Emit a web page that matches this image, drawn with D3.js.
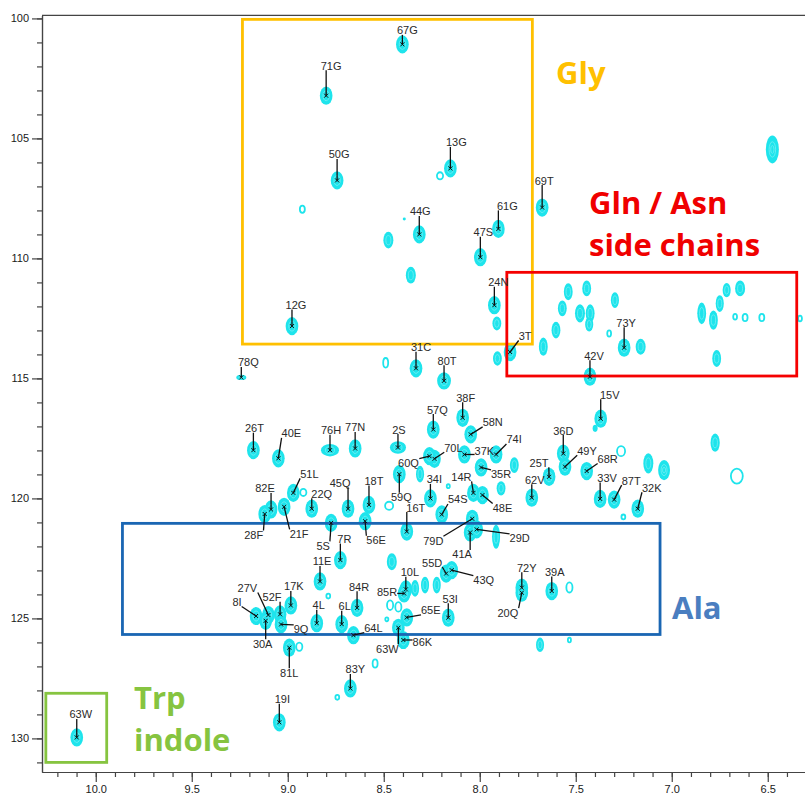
<!DOCTYPE html>
<html lang="en">
<head>
<meta charset="utf-8">
<title>1H-15N HSQC</title>
<script src="https://d3js.org/d3.v7.min.js"></script>
<style>
  body { margin: 0; background: #fff; }
  svg { display: block; }
  .axis text { font-family: Arial, "Liberation Sans", sans-serif; font-size: 11px; fill: #1a1a1a; }
  .axis path, .axis line { stroke: #444; stroke-width: 1.2; }
  .lbl { font-family: Arial, "Liberation Sans", sans-serif; font-size: 11px; fill: #2a2a2a; }
  .region { font-family: "Open Sans", sans-serif; font-weight: 700; font-size: 31px; }
</style>
</head>
<body>
<div id="main"></div>
<script>

// assigned backbone peaks: [label, 1H ppm, 15N ppm]
var assigned = [
  ["67G", 8.403, 101.08], ["71G", 8.800, 103.22], ["50G", 8.743, 106.75], ["13G", 8.153, 106.25],
  ["69T", 7.675, 107.88], ["44G", 8.315, 109.00], ["61G", 7.903, 108.77], ["47S", 7.997, 109.95],
  ["12G", 8.978, 112.82], ["24N", 7.924, 111.95], ["3T", 7.842, 113.90], ["31C", 8.332, 114.58],
  ["80T", 8.186, 115.10], ["78Q", 9.242, 114.96], ["42V", 7.426, 114.93], ["73Y", 7.248, 113.72],
  ["15V", 7.370, 116.68], ["38F", 8.089, 116.64], ["57Q", 8.242, 117.13], ["58N", 8.047, 117.33],
  ["74I", 7.915, 118.17], ["37K", 8.080, 118.17], ["70L", 8.236, 118.35], ["60Q", 8.262, 118.24],
  ["59Q", 8.419, 118.99], ["36D", 7.565, 118.13], ["49Y", 7.556, 118.68], ["68R", 7.443, 118.86],
  ["25T", 7.639, 119.10], ["26T", 9.179, 117.99], ["40E", 9.049, 118.33], ["76H", 8.780, 117.99],
  ["77N", 8.649, 117.92], ["2S", 8.426, 117.88], ["51L", 8.971, 119.77], ["82E", 9.087, 120.46],
  ["28F", 9.120, 120.65], ["21F", 9.019, 120.35], ["22Q", 8.875, 120.43], ["45Q", 8.686, 120.43],
  ["18T", 8.577, 120.27], ["5S", 8.774, 121.02], ["56E", 8.597, 120.95], ["34I", 8.257, 120.00],
  ["14R", 8.033, 119.77], ["48E", 7.986, 119.86], ["35R", 7.993, 118.71], ["54S", 8.198, 120.67],
  ["16T", 8.380, 121.38], ["62V", 7.729, 119.97], ["33V", 7.373, 120.02], ["87T", 7.300, 120.05],
  ["32K", 7.177, 120.43], ["79D", 8.039, 120.85], ["41A", 8.050, 121.42], ["29D", 8.016, 121.29],
  ["7R", 8.726, 122.57], ["11E", 8.832, 123.46], ["55D", 8.175, 123.13], ["43Q", 8.146, 122.99],
  ["72Y", 7.781, 123.72], ["20Q", 7.781, 123.93], ["39A", 7.625, 123.86], ["10L", 8.385, 123.79],
  ["85R", 8.394, 123.96], ["84R", 8.639, 124.56], ["17K", 8.984, 124.46], ["4L", 8.849, 125.20],
  ["6L", 8.719, 125.24], ["53I", 8.164, 124.97], ["65E", 8.380, 124.96], ["64L", 8.658, 125.70],
  ["63W", 8.424, 125.39], ["86K", 8.398, 125.90], ["81L", 8.992, 126.22], ["83Y", 8.674, 127.92],
  ["19I", 9.044, 129.33], ["8I", 9.165, 124.90], ["27V", 9.101, 124.86], ["30A", 9.115, 125.10],
  ["52F", 9.040, 124.83], ["9Q", 9.035, 125.25]
];

// Trp side-chain indole NH
var indole = [["63W", 10.099, 129.96]];

// unassigned peaks: [1H ppm, 15N ppm, half-width 1H ppm, half-width 15N ppm, kind]
var unassigned = [
  [6.476, 105.46, 0.034, 0.58, "strong"],
  [8.476, 109.24, 0.026, 0.35, "blob"], [8.359, 110.70, 0.026, 0.35, "blob"],
  [8.207, 106.56, 0.016, 0.15, "ring"], [8.924, 107.95, 0.013, 0.15, "ring"],
  [8.393, 108.36, 0.008, 0.06, "blob"],
  [7.911, 112.71, 0.023, 0.29, "blob"], [7.908, 114.17, 0.023, 0.30, "blob"],
  [8.490, 114.35, 0.013, 0.20, "ring"],
  [7.539, 111.39, 0.023, 0.35, "blob"], [7.443, 111.25, 0.023, 0.33, "blob"],
  [7.570, 112.08, 0.023, 0.33, "blob"], [7.603, 112.99, 0.023, 0.35, "blob"],
  [7.478, 112.29, 0.026, 0.38, "blob"], [7.425, 112.29, 0.023, 0.38, "blob"],
  [7.430, 112.75, 0.021, 0.30, "blob"],
  [7.296, 111.74, 0.021, 0.33, "blob"], [7.669, 113.68, 0.023, 0.38, "blob"],
  [7.162, 113.68, 0.026, 0.33, "blob"], [6.844, 112.29, 0.023, 0.45, "blob"],
  [6.783, 112.57, 0.023, 0.40, "blob"], [6.714, 111.32, 0.021, 0.30, "blob"],
  [6.644, 111.25, 0.026, 0.33, "blob"], [6.750, 111.88, 0.021, 0.35, "blob"],
  [6.766, 114.17, 0.023, 0.35, "blob"],
  [6.618, 112.46, 0.013, 0.15, "ring"], [6.531, 112.46, 0.013, 0.15, "ring"],
  [6.670, 112.43, 0.010, 0.12, "ring"], [6.332, 112.50, 0.010, 0.12, "ring"],
  [7.326, 113.13, 0.010, 0.13, "ring"],
  [7.122, 118.54, 0.026, 0.42, "blob"], [7.040, 118.82, 0.031, 0.42, "strong"],
  [6.774, 117.68, 0.024, 0.38, "blob"], [6.661, 119.07, 0.031, 0.31, "ring"],
  [7.264, 118.03, 0.021, 0.21, "ring"], [7.399, 117.08, 0.013, 0.15, "blob"],
  [7.252, 120.77, 0.010, 0.10, "ring"],
  [7.820, 118.61, 0.023, 0.33, "blob"], [7.889, 119.58, 0.023, 0.30, "blob"],
  [7.915, 121.60, 0.021, 0.50, "blob"], [8.311, 118.99, 0.021, 0.35, "blob"],
  [8.472, 120.31, 0.021, 0.17, "ring"], [8.164, 119.49, 0.008, 0.08, "ring"],
  [8.919, 119.75, 0.016, 0.15, "ring"],
  [8.458, 122.64, 0.026, 0.35, "blob"],
  [8.337, 123.75, 0.021, 0.35, "blob"], [8.285, 123.61, 0.021, 0.35, "blob"],
  [8.224, 123.61, 0.021, 0.35, "blob"],
  [8.467, 124.45, 0.016, 0.20, "ring"], [8.424, 124.52, 0.016, 0.20, "ring"],
  [8.484, 125.04, 0.008, 0.08, "ring"],
  [8.789, 124.07, 0.010, 0.10, "ring"], [8.940, 126.18, 0.016, 0.17, "ring"],
  [8.545, 126.88, 0.013, 0.17, "ring"], [8.742, 128.29, 0.010, 0.10, "ring"],
  [7.686, 126.10, 0.021, 0.30, "blob"], [7.533, 125.90, 0.008, 0.10, "ring"],
  [7.533, 123.71, 0.016, 0.21, "ring"]
];

// boxed regions: [name, 1H from, 1H to, 15N from, 15N to]
var regions = [
  ["Gly", 9.236, 7.726, 100.04, 113.57],
  ["GlnAsn", 7.859, 6.349, 110.58, 114.90],
  ["Ala", 9.861, 7.061, 121.04, 125.67],
  ["Trp", 10.26, 9.943, 128.12, 131.0]
];

var xMajor = [10.0, 9.5, 9.0, 8.5, 8.0, 7.5, 7.0, 6.5];
var yMajor = [100, 105, 110, 115, 120, 125, 130];

// label offsets in px (label centre relative to the cross)
var labelOff = {
  "67G": [5, -14], "71G": [5, -30], "50G": [2, -26], "13G": [6, -26], "69T": [2, -27],
  "44G": [1, -23], "61G": [9, -23], "47S": [3, -25], "12G": [4, -21], "24N": [4, -23],
  "3T": [15, -16], "31C": [5, -21], "80T": [3, -20], "78Q": [7, -15], "42V": [4, -21],
  "73Y": [2, -25], "15V": [9, -24], "38F": [3, -20], "57Q": [4, -20], "58N": [22, -12],
  "74I": [18, -15], "37K": [20, -3], "70L": [19, -11], "60Q": [-21, 7], "59Q": [2, 23],
  "36D": [0, -23], "49Y": [22, -16], "68R": [21, -12], "25T": [-10, -14], "26T": [1, -22],
  "40E": [13, -25], "76H": [1, -20], "77N": [0, -21], "2S": [1, -18], "51L": [16, -19],
  "82E": [-6, -21], "28F": [-11, 21], "21F": [15, 27], "22Q": [10, -15], "45Q": [-8, -26],
  "18T": [5, -24], "5S": [-8, 23], "56E": [11, 19], "34I": [4, -19], "14R": [-12, -16],
  "48E": [20, 13], "35R": [20, 7], "54S": [16, -15], "16T": [9, -24], "62V": [3, -18],
  "33V": [7, -21], "87T": [17, -19], "32K": [14, -21], "79D": [-39, 22], "41A": [-8, 22],
  "29D": [43, 9], "7R": [4, -21], "11E": [2, -20], "55D": [-14, -11], "43Q": [32, 10],
  "72Y": [5, -20], "20Q": [-14, 20], "39A": [3, -19], "10L": [4, -17], "85R": [-17, -1],
  "84R": [2, -21], "17K": [3, -19], "4L": [2, -18], "6L": [3, -18], "53I": [2, -19],
  "65E": [24, -7], "64L": [20, -7], "63W": [-11, 21], "86K": [19, 2], "81L": [0, 25],
  "83Y": [5, -19], "19I": [3, -23], "8I": [-19, -14], "27V": [-21, -27], "30A": [-3, 23],
  "52F": [-8, -17], "9Q": [20, 5]
};
var indoleOff = [[4, -23]];

var W = 805, H = 794;
var svg = d3.select("#main").append("svg").attr("width", W).attr("height", H);

var x = d3.scaleLinear().domain([10.28, 6.306]).range([42, 805]);
var y = d3.scaleLinear().domain([99.87, 131.4]).range([15.3, 772]);

// axes
svg.append("g").attr("class", "axis").attr("transform", "translate(0,772)")
  .call(d3.axisBottom(x).tickValues(d3.range(64, 103).map(function(d) { return d / 10; }))
    .tickSize(5).tickSizeOuter(0).tickFormat(""));
svg.append("g").attr("class", "axis").attr("transform", "translate(0,772)")
  .call(d3.axisBottom(x).tickValues(xMajor).tickSize(10).tickPadding(3).tickSizeOuter(0)
    .tickFormat(d3.format(".1f")));
svg.append("g").attr("class", "axis").attr("transform", "translate(42,0)")
  .call(d3.axisLeft(y).tickValues(d3.range(100, 132)).tickSize(5).tickSizeOuter(0).tickFormat(""));
svg.append("g").attr("class", "axis").attr("transform", "translate(42,0)")
  .call(d3.axisLeft(y).tickValues(yMajor).tickSize(10).tickPadding(3).tickSizeOuter(0)
    .tickFormat(d3.format("d")));
svg.append("line").attr("x1", 42).attr("x2", W).attr("y1", 15.3).attr("y2", 15.3)
  .attr("stroke", "#444").attr("stroke-width", 1.2);

// contours
var cyan = "#1ee4ec", pale = "#74eff2";
var peaks = svg.append("g");

function rxOf(h, w) { return Math.abs(x(h + w) - x(h)); }
function ryOf(n, w) { return Math.abs(y(n + w) - y(n)); }

unassigned.forEach(function(p) {
  var cx = x(p[0]), cy = y(p[1]), rx = rxOf(p[0], p[2]), ry = ryOf(p[1], p[3]);
  if (p[4] === "ring") {
    peaks.append("ellipse").attr("cx", cx).attr("cy", cy).attr("rx", rx).attr("ry", ry)
      .attr("fill", "none").attr("stroke", cyan).attr("stroke-width", 1.8);
  } else {
    peaks.append("ellipse").attr("cx", cx).attr("cy", cy).attr("rx", rx).attr("ry", ry)
      .attr("fill", cyan);
    if (rx > 3) {
      peaks.append("ellipse").attr("cx", cx).attr("cy", cy).attr("rx", rx * 0.5).attr("ry", ry * 0.55)
        .attr("fill", "none").attr("stroke", pale).attr("stroke-width", 0.8);
    }
    if (p[4] === "strong") {
      peaks.append("ellipse").attr("cx", cx).attr("cy", cy).attr("rx", rx * 0.25).attr("ry", ry * 0.28)
        .attr("fill", "none").attr("stroke", pale).attr("stroke-width", 0.8);
    }
  }
});

var all = assigned.map(function(d) { return { lab: d[0], h: d[1], n: d[2], off: labelOff[d[0]] }; })
  .concat(indole.map(function(d, i) { return { lab: d[0], h: d[1], n: d[2], off: indoleOff[i] }; }));

var wide = { "76H": [0.047, 0.26], "2S": [0.042, 0.26], "78Q": [0.026, 0.11], "80T": [0.036, 0.36] };

all.forEach(function(d) {
  var w = d.h > 10 ? [0.033, 0.38] : (wide[d.lab] || [0.033, 0.38]);
  var cx = x(d.h), cy = y(d.n), rx = rxOf(d.h, w[0]), ry = ryOf(d.n, w[1]);
  peaks.append("ellipse").attr("cx", cx).attr("cy", cy).attr("rx", rx).attr("ry", ry).attr("fill", cyan);
  peaks.append("ellipse").attr("cx", cx).attr("cy", cy).attr("rx", rx * 0.5).attr("ry", ry * 0.55)
    .attr("fill", "none").attr("stroke", pale).attr("stroke-width", 0.8);
});

// regions
var regColor = { Gly: "#ffc000", GlnAsn: "#f50000", Ala: "#1a66b3", Trp: "#86c440" };
svg.append("g").selectAll("rect").data(regions).enter().append("rect")
  .attr("x", function(d) { return x(d[1]); })
  .attr("y", function(d) { return y(d[3]); })
  .attr("width", function(d) { return x(d[2]) - x(d[1]); })
  .attr("height", function(d) { return y(d[4]) - y(d[3]); })
  .attr("fill", "none")
  .attr("stroke", function(d) { return regColor[d[0]]; })
  .attr("stroke-width", 2.8);

// labels, leader lines, crosses
var lines = svg.append("g"), marks = svg.append("g"), texts = svg.append("g");
all.forEach(function(d) {
  var cx = x(d.h), cy = y(d.n);
  var t = texts.append("text").attr("class", "lbl")
    .attr("x", cx + d.off[0]).attr("y", cy + d.off[1] + 4)
    .attr("text-anchor", "middle").text(d.lab);
  var b = t.node().getBBox();
  var bx0 = b.x, bx1 = b.x + b.width, by0 = b.y + 1.5, by1 = b.y + b.height - 1.5;
  var ex = Math.max(bx0, Math.min(cx, bx1)), ey = Math.max(by0, Math.min(cy, by1));
  lines.append("line").attr("x1", cx).attr("y1", cy).attr("x2", ex).attr("y2", ey)
    .attr("stroke", "#111").attr("stroke-width", 1.3);
  marks.append("path").attr("d", "M" + (cx - 2) + "," + (cy - 2) + "L" + (cx + 2) + "," + (cy + 2) +
      "M" + (cx - 2) + "," + (cy + 2) + "L" + (cx + 2) + "," + (cy - 2))
    .attr("stroke", "#111").attr("stroke-width", 1);
});

// region captions
function caption(lines, x0, y0, color) {
  lines.forEach(function(s, i) {
    svg.append("text").attr("class", "region").attr("x", x0).attr("y", y0 + i * 42)
      .attr("fill", color).text(s);
  });
}
caption(["Gly"], 556, 84, regColor.Gly);
caption(["Gln / Asn", "side chains"], 589, 214, "#f00000");
caption(["Ala"], 672, 619, "#4a7ec0");
caption(["Trp", "indole"], 134, 709, regColor.Trp);

</script>
</body>
</html>
